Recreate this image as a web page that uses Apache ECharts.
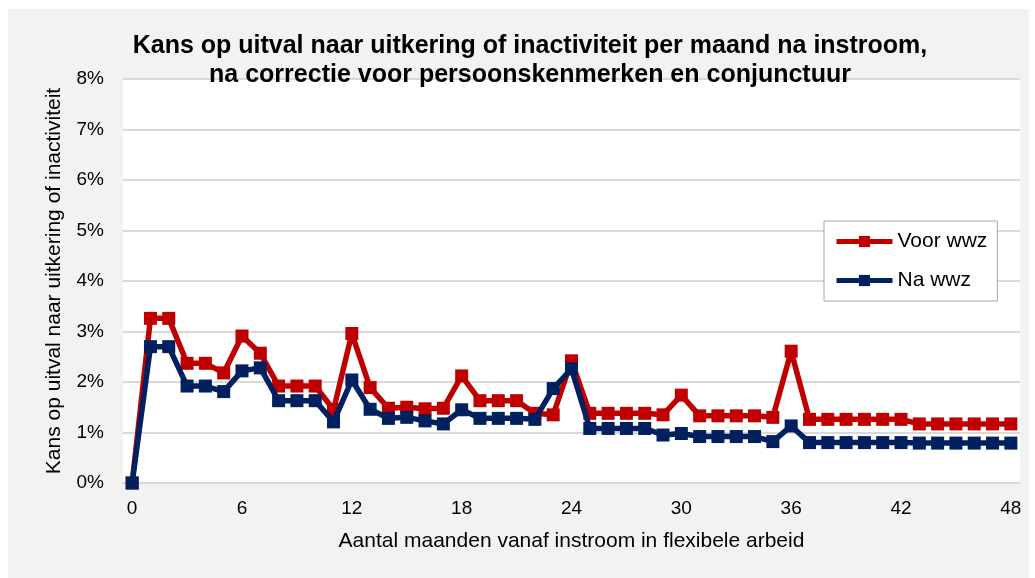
<!DOCTYPE html>
<html>
<head>
<meta charset="utf-8">
<script src="https://cdn.jsdelivr.net/npm/echarts@6/dist/echarts.min.js"></script>
<style>
html,body{margin:0;padding:0;background:#ffffff;}
#chart{position:absolute;left:8px;top:9px;width:1021px;height:569px;}
</style>
</head>
<body>
<div id="chart"></div>
<script>
const months = Array.from({length: 49}, (_, i) => String(i));
const voorWwz = [0, 3.26, 3.26, 2.37, 2.37, 2.18, 2.91, 2.57, 1.92, 1.92, 1.92, 1.45, 2.96,
  1.89, 1.48, 1.50, 1.47, 1.48, 2.12, 1.63, 1.63, 1.63, 1.38, 1.35, 2.42,
  1.38, 1.38, 1.38, 1.38, 1.35, 1.74, 1.33, 1.33, 1.33, 1.33, 1.30, 2.61,
  1.26, 1.26, 1.26, 1.26, 1.26, 1.26, 1.17, 1.17, 1.17, 1.17, 1.17, 1.17];
const naWwz = [0, 2.70, 2.70, 1.92, 1.92, 1.81, 2.22, 2.28, 1.63, 1.63, 1.63, 1.21, 2.04,
  1.46, 1.28, 1.30, 1.23, 1.17, 1.45, 1.28, 1.28, 1.28, 1.26, 1.87, 2.26,
  1.08, 1.08, 1.08, 1.08, 0.95, 0.98, 0.92, 0.92, 0.92, 0.92, 0.82, 1.13,
  0.80, 0.80, 0.80, 0.80, 0.80, 0.80, 0.79, 0.79, 0.79, 0.79, 0.79, 0.79];
const seriesNames = ['Voor wwz', 'Na wwz'];
const titleText = 'Kans op uitval naar uitkering of inactiviteit per maand na instroom,\nna correctie voor persoonskenmerken en conjunctuur';
const yName = 'Kans op uitval naar uitkering of inactiviteit';
const xName = 'Aantal maanden vanaf instroom in flexibele arbeid';

const FONT = 'Liberation Sans, Arial, sans-serif';
const chart = echarts.init(document.getElementById('chart'), null, {renderer: 'canvas'});
chart.setOption({
  backgroundColor: '#f2f2f2',
  animation: false,
  textStyle: {fontFamily: FONT, color: '#000'},
  title: {
    text: titleText,
    left: 517, top: 18, textAlign: 'center',
    textStyle: {fontFamily: FONT, fontSize: 25, fontWeight: 'bold', color: '#000', lineHeight: 29}
  },
  legend: {
    orient: 'vertical', left: 816, top: 212,
    padding: [10, 10, 10, 10], itemGap: 18,
    itemWidth: 56, itemHeight: 14,
    backgroundColor: '#ffffff', borderColor: '#a6a6a6', borderWidth: 1,
    lineStyle: {width: 5},
    textStyle: {fontFamily: FONT, fontSize: 21, color: '#000'},
    data: seriesNames
  },
  grid: {left: 115, right: 9, top: 70, bottom: 95, show: true, backgroundColor: '#ffffff', borderWidth: 0, containLabel: false},
  xAxis: {
    type: 'category', data: months, boundaryGap: true,
    name: xName, nameLocation: 'middle', nameGap: 48,
    nameTextStyle: {fontFamily: FONT, fontSize: 21, color: '#000'},
    axisLine: {show: true, lineStyle: {color: '#d9d9d9', width: 2}},
    axisTick: {show: false},
    axisLabel: {interval: 5, margin: 16, fontFamily: FONT, fontSize: 19, color: '#000'}
  },
  yAxis: {
    type: 'value', min: 0, max: 8, interval: 1,
    name: yName, nameLocation: 'middle', nameGap: 58,
    nameTextStyle: {fontFamily: FONT, fontSize: 21, color: '#000'},
    axisLine: {show: false}, axisTick: {show: false},
    splitLine: {show: true, lineStyle: {color: '#d9d9d9', width: 2}},
    axisLabel: {formatter: '{value}%', margin: 19, fontFamily: FONT, fontSize: 19, color: '#000'}
  },
  series: [
    {name: seriesNames[0], type: 'line', data: voorWwz, symbol: 'rect', symbolSize: 13, showAllSymbol: true,
     lineStyle: {color: '#c00000', width: 5.5}, itemStyle: {color: '#c00000'}, z: 2},
    {name: seriesNames[1], type: 'line', data: naWwz, symbol: 'rect', symbolSize: 13, showAllSymbol: true,
     lineStyle: {color: '#002060', width: 5.5}, itemStyle: {color: '#002060'}, z: 3}
  ]
});
</script>
</body>
</html>
